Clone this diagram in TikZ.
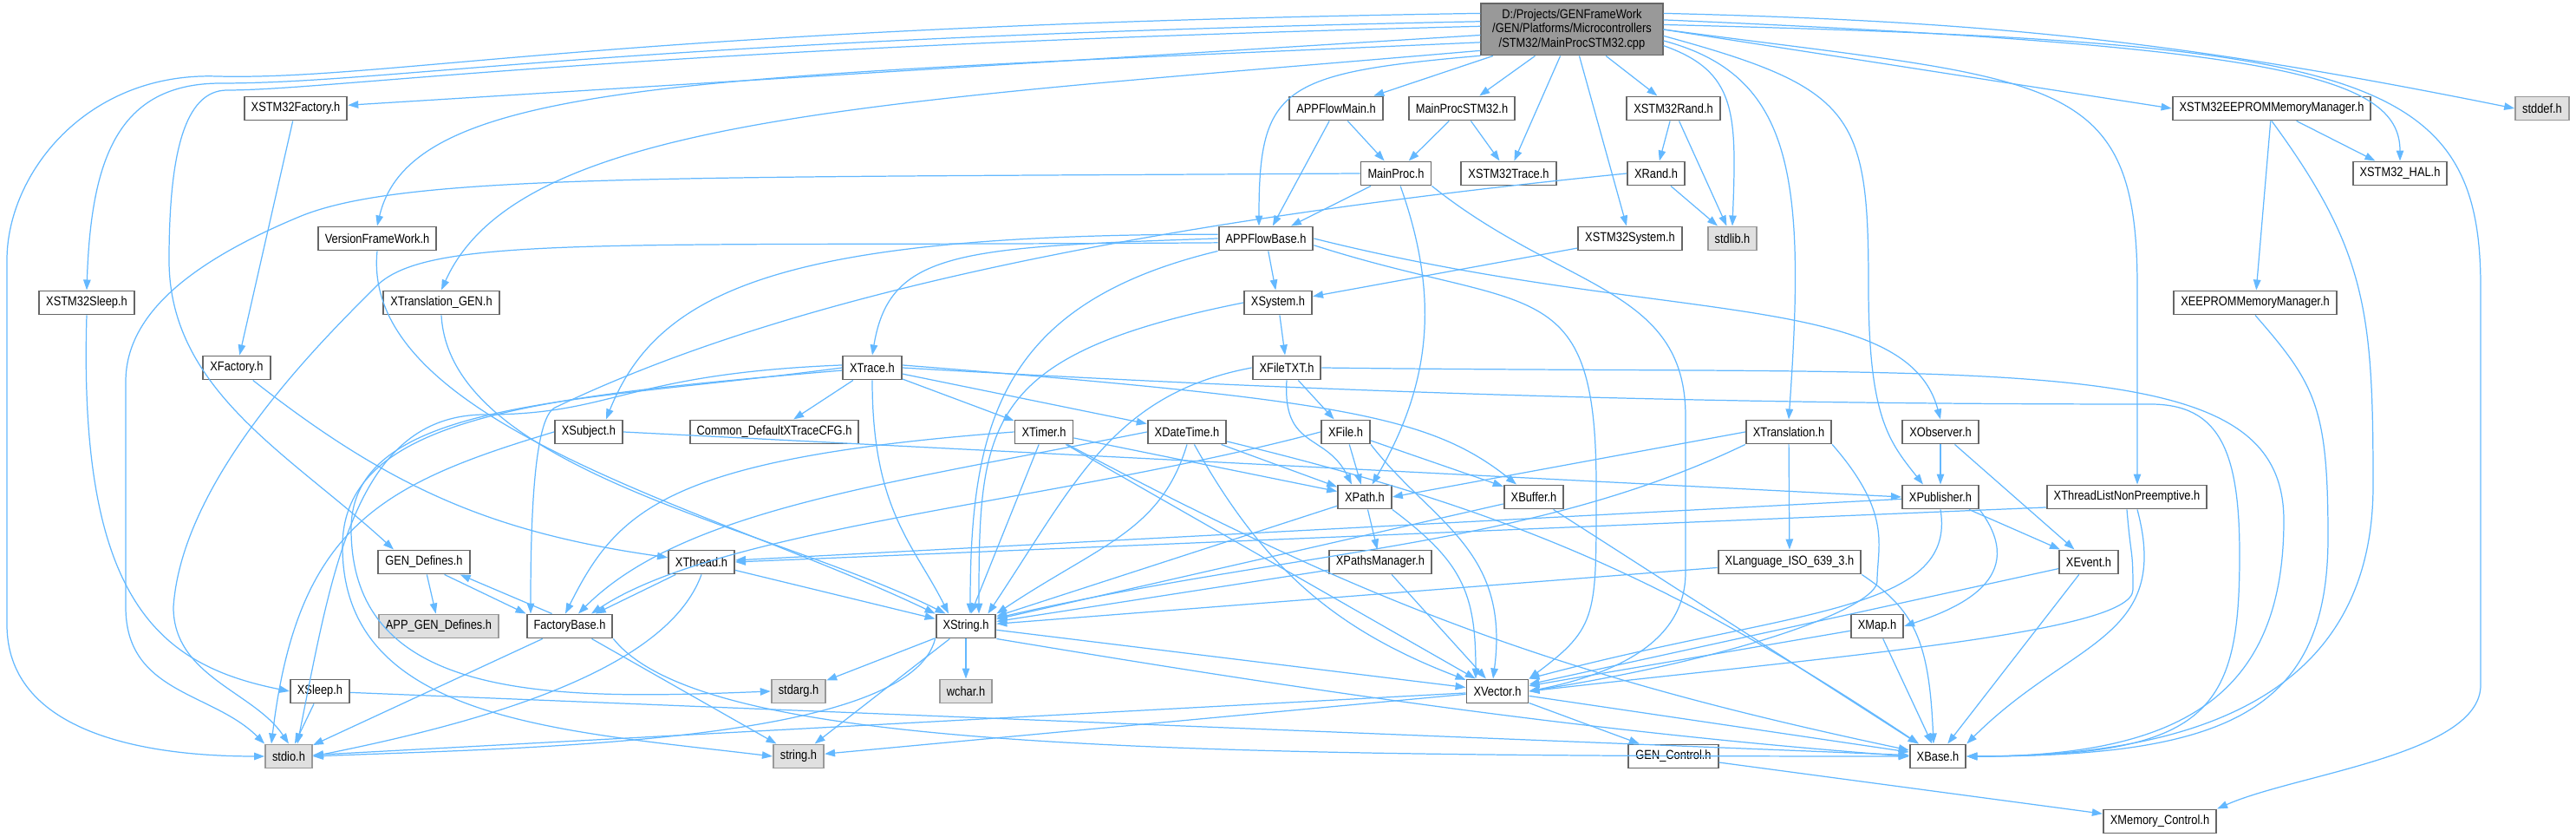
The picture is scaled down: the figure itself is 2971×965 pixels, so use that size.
\documentclass[tikz,border=0pt]{standalone}
\usepackage{fontspec}
\setmainfont{Liberation Sans}[FakeStretch=0.86]
\usepackage{xcolor}
\usepackage{tikz}
\usetikzlibrary{arrows.meta, calc}

\definecolor{edgeblue}{HTML}{63B8FF}
\definecolor{boxline}{HTML}{666666}
\definecolor{sysfill}{HTML}{E0E0E0}
\definecolor{sysline}{HTML}{999999}
\definecolor{rootfill}{HTML}{999999}

\begin{document}
\begin{tikzpicture}[
    x=0.01cm, y=0.01cm,
    file/.style={rectangle, draw=boxline, fill=white, line width=0.55pt, minimum height=0.27cm, inner xsep=0.08cm, inner ysep=0pt, font=\fontsize{4.25}{4.6}\selectfont},
    sys/.style={file, draw=sysline, fill=sysfill},
    rootfile/.style={file, fill=rootfill, align=center, minimum width=2.09cm, minimum height=0.59cm},
    line/.style={draw=edgeblue, line width=0.35pt, -{Triangle[length=0.12cm, width=0.085cm]}}
]
\useasboundingbox (0,0) rectangle (2971,-965);

% Nodes
\node [rootfile] (root) at (1813,-34) {D:/Projects/GENFrameWork\\/GEN/Platforms/Microcontrollers\\/STM32/MainProcSTM32.cpp};

\node [file] (stm32factory) at (341,-125) {XSTM32Factory.h};
\node [file] (appflowmain) at (1541,-125) {APPFlowMain.h};
\node [file] (mainprocstm32) at (1686,-125) {MainProcSTM32.h};
\node [file] (stm32rand) at (1930,-125) {XSTM32Rand.h};
\node [file] (stm32eeprom) at (2620,-125) {XSTM32EEPROMMemoryManager.h};
\node [sys] (stddef) at (2932,-125) {stddef.h};

\node [file] (mainproc) at (1610,-200) {MainProc.h};
\node [file] (stm32trace) at (1740,-200) {XSTM32Trace.h};
\node [file] (xrand) at (1910,-200) {XRand.h};
\node [file] (stm32hal) at (2768,-200) {XSTM32\_HAL.h};

\node [file] (versionfw) at (435,-275) {VersionFrameWork.h};
\node [file] (appflowbase) at (1460,-275) {APPFlowBase.h};
\node [file] (stm32system) at (1880,-275) {XSTM32System.h};
\node [sys] (stdlib) at (1998,-275) {stdlib.h};

\node [file] (stm32sleep) at (100,-349) {XSTM32Sleep.h};
\node [file] (translationgen) at (509,-349) {XTranslation\_GEN.h};
\node [file] (xsystem) at (1474,-349) {XSystem.h};
\node [file] (eeprommanager) at (2601,-349) {XEEPROMMemoryManager.h};

\node [file] (xfactory) at (273,-424) {XFactory.h};
\node [file] (xtrace) at (1006,-424) {XTrace.h};
\node [file] (xfiletxt) at (1484,-424) {XFileTXT.h};

\node [file] (xsubject) at (679,-498) {XSubject.h};
\node [file] (tracecfg) at (893,-498) {Common\_DefaultXTraceCFG.h};
\node [file] (xtimer) at (1204,-498) {XTimer.h};
\node [file] (xdatetime) at (1369,-498) {XDateTime.h};
\node [file] (xfile) at (1552,-498) {XFile.h};
\node [file] (xtranslation) at (2063,-498) {XTranslation.h};
\node [file] (xobserver) at (2238,-498) {XObserver.h};

\node [file] (xpath) at (1574,-573) {XPath.h};
\node [file] (xbuffer) at (1769,-573) {XBuffer.h};
\node [file] (xpublisher) at (2238,-573) {XPublisher.h};
\node [file] (xthreadlist) at (2453,-573) {XThreadListNonPreemptive.h};

\node [file] (gendefines) at (489,-648) {GEN\_Defines.h};
\node [file] (xthread) at (809,-648) {XThread.h};
\node [file] (xpathsmanager) at (1592,-648) {XPathsManager.h};
\node [file] (xlanguage) at (2064,-648) {XLanguage\_ISO\_639\_3.h};
\node [file] (xevent) at (2409,-648) {XEvent.h};

\node [sys] (appgendefines) at (506,-722) {APP\_GEN\_Defines.h};
\node [file] (factorybase) at (657,-722) {FactoryBase.h};
\node [file] (xstring) at (1114,-722) {XString.h};
\node [file] (xmap) at (2165,-722) {XMap.h};

\node [file] (xsleep) at (369,-797) {XSleep.h};
\node [sys] (stdarg) at (921,-797) {stdarg.h};
\node [sys] (wchar) at (1114,-797) {wchar.h};
\node [file] (xvector) at (1727,-797) {XVector.h};

\node [sys] (stdio) at (333,-872) {stdio.h};
\node [sys] (string) at (921,-872) {string.h};
\node [file] (gencontrol) at (1930,-872) {GEN\_Control.h};
\node [file] (xbase) at (2235,-872) {XBase.h};

\node [file] (memcontrol) at (2491,-947) {XMemory\_Control.h};

% Edges
% from the .cpp file
\path [line] (root) -- (stm32factory);
\path [line] (root.188) .. controls +(-900,-40) and +(40,170) .. (versionfw.north);
\path [line] (root.175) .. controls +(-1000,-20) and +(200,0) .. (255,-96) .. controls +(-120,0) and +(5,150) .. (stm32sleep.north);
\path [line] (root.170) .. controls +(-1000,-15) and +(200,-5) .. (250,-88) .. controls +(-150,5) and +(0,100) .. (8,-300) -- (8,-720) .. controls +(0,-120) and +(-150,0) .. (stdio.west);
\path [line] (root.178) .. controls +(-1000,-25) and +(120,0) .. (262,-104) .. controls +(-50,0) and +(0,120) .. (195,-300) .. controls +(0,-150) and +(-120,110) .. ([shift={(-35,0)}]gendefines.north);
\path [line] (root.193) .. controls +(-700,-60) and +(90,200) .. (translationgen.north);
\path [line] (root) -- (appflowmain);
\path [line] (root) -- (mainprocstm32);
\path [line] (root) -- (stm32trace);
\path [line] (root) -- (stm32rand);
\path [line] (root) -- (stm32system);
\path [line] (root.196) .. controls +(-230,-20) and +(0,160) .. ([shift={(-8,0)}]appflowbase.north);
\path [line] (root.350) .. controls +(85,-30) and +(5,130) .. (stdlib.north);
\path [line] (root.353) .. controls +(150,-40) and +(20,280) .. (xtranslation.north);
\path [line] (root.356) .. controls +(220,-60) and +(0,200) .. (2155,-330) .. controls +(0,-150) and +(-40,50) .. ([shift={(-20,0)}]xpublisher.north);
\path [line] (root.east) .. controls +(450,-60) and +(0,250) .. (2465,-330) -- ([shift={(12,0)}]xthreadlist.north);
\path [line] (root.east) -- (stm32eeprom.west);
\path [line] (root.6) .. controls +(700,-30) and +(0,100) .. (stm32hal.north);
\path [line] (root.10) to[bend left=5] (stddef.west);
\path [line] (root.3) .. controls +(800,-20) and +(0,250) .. (2861,-330) -- (2861,-790) .. controls +(0,-80) and +(90,40) .. (memcontrol.north east);

% left column
\path [line] (stm32factory) -- (xfactory);
\path [line] (xfactory) to[bend right=15] (xthread);
\path [line] (stm32sleep.south) .. controls +(-10,-330) and +(-150,30) .. (xsleep.west);
\path [line] (versionfw.south) .. controls +(-20,-200) and +(-250,120) .. (xstring.north west);
\path [line] (translationgen.south) .. controls +(10,-180) and +(-200,100) .. ([shift={(12,0)}]xstring.north west);
\path [line] (gendefines) -- (appgendefines);
\path [line] ([shift={(-30,0)}]gendefines.south east) -- (factorybase.north west);
\path [line] ([shift={(30,0)}]factorybase.north west) -- ([shift={(-12,0)}]gendefines.south east);
\path [line] (xthread) -- (factorybase);
\path [line] (xthread.south) .. controls +(-40,-110) and +(200,40) .. (stdio.east);
\path [line] (xthread) -- (xstring);
\path [line] (factorybase) -- (stdio);
\path [line] (factorybase) -- (string);
\path [line] (factorybase.south east) .. controls +(100,-125) and +(-900,0) .. (xbase.west);
\path [line] (xsleep) -- (stdio);
\path [line] (xsleep) -- (xbase);

% application
\path [line] (appflowmain) -- (mainproc);
\path [line] (appflowmain) -- (appflowbase);
\path [line] (mainprocstm32) -- (mainproc);
\path [line] (mainprocstm32) -- (stm32trace);
\path [line] (stm32rand) -- (xrand);
\path [line] (stm32rand) -- (stdlib);
\path [line] (xrand) -- (stdlib);
\path [line] (mainproc) -- (appflowbase);
\path [line] (mainproc.west) .. controls +(-800,-5) and +(120,50) .. (345,-250) .. controls +(-120,-50) and +(0,80) .. (145,-440) -- (145,-700) .. controls +(0,-100) and +(-60,60) .. (stdio.north west);
\path [line] (mainproc) to[bend left=25] (xpath);
\path [line] (mainproc.south east) .. controls +(150,-120) and +(0,150) .. (1944,-480) -- (1944,-660) .. controls +(0,-80) and +(100,20) .. (xvector.east);
\path [line] (xrand.west) .. controls +(-600,-60) and +(250,120) .. (640,-470) .. controls +(-25,-12) and +(0,100) .. ([shift={(-45,0)}]factorybase.north);

\path [line] (appflowbase) -- (xsystem);
\path [line] (stm32system) -- (xsystem);
\path [line] (appflowbase.west) .. controls +(-300,-10) and +(20,120) .. (xtrace.north);
\path [line] (appflowbase.175) .. controls +(-500,0) and +(60,150) .. ([shift={(20,0)}]xsubject.north);
\path [line] (appflowbase.185) .. controls +(-700,-5) and +(60,60) .. (434,-330) .. controls +(-60,-60) and +(10,150) .. (200,-700) .. controls +(0,-80) and +(-40,60) .. (stdio.north);
\path [line] (appflowbase.south west) .. controls +(-250,-60) and +(0,220) .. ([shift={(5,0)}]xstring.north);
\path [line] (appflowbase.east) .. controls +(400,-100) and +(-40,150) .. (xobserver.north);
\path [line] (appflowbase.-8) .. controls +(250,-80) and +(0,250) .. (1841,-560) .. controls +(0,-150) and +(80,60) .. (xvector.north east);

% system, files and paths
\path [line] (xsystem) -- (xfiletxt);
\path [line] (xsystem.west) .. controls +(-300,-60) and +(0,220) .. ([shift={(15,0)}]xstring.north);
\path [line] (xfiletxt) -- (xfile);
\path [line] (xfiletxt.south) .. controls +(-5,-80) and +(-30,60) .. ([shift={(-15,0)}]xpath.north);
\path [line] (xfiletxt.west) .. controls +(-160,-30) and +(100,150) .. ([shift={(-10,0)}]xstring.north east);
\path [line] (xfiletxt.east) .. controls +(800,-10) and +(0,200) .. (2634,-600) .. controls +(0,-200) and +(250,0) .. (xbase.east);
\path [line] (xfile) -- (xpath);
\path [line] (xfile) -- (xbuffer);
\path [line] (xfile.south east) .. controls +(70,-90) and +(20,150) .. ([shift={(-5,0)}]xvector.north);
\path [line] (xfile.west) .. controls +(-300,-80) and +(150,100) .. ([shift={(25,0)}]factorybase.north);
\path [line] (xpath) -- (xpathsmanager);
\path [line] (xpath) -- (xstring);
\path [line] (xpath.south east) .. controls +(80,-60) and +(0,100) .. ([shift={(-25,0)}]xvector.north);
\path [line] (xpathsmanager) -- (xstring);
\path [line] (xpathsmanager) -- (xvector);
\path [line] (xbuffer) -- (xstring);
\path [line] (xbuffer) -- (xbase);

% trace
\path [line] (xtrace) -- (tracecfg);
\path [line] (xtrace) -- (xtimer);
\path [line] (xtrace) -- (xdatetime);
\path [line] (xtrace.5) .. controls +(500,-40) and +(-100,80) .. ([shift={(-20,0)}]xbuffer.north);
\path [line] (xtrace.south) .. controls +(0,-150) and +(-40,80) .. ([shift={(-20,0)}]xstring.north);
\path [line] (xtrace.175) .. controls +(-250,-10) and +(150,0) .. (560,-478) .. controls +(-150,0) and +(40,200) .. ([shift={(10,0)}]stdio.north);
\path [line] (xtrace.west) .. controls +(-300,-40) and +(0,150) .. (405,-610) .. controls +(0,-200) and +(-250,-10) .. (stdarg.west);
\path [line] (xtrace.185) .. controls +(-350,-30) and +(0,150) .. (395,-630) .. controls +(0,-200) and +(-250,30) .. (string.west);
\path [line] (xtrace.east) .. controls +(600,-35) and +(-400,0) .. (2480,-466) .. controls +(80,0) and +(0,120) .. (2583,-640) .. controls +(0,-180) and +(280,0) .. (xbase.east);

% timer and date
\path [line] (xtimer) -- (xpath);
\path [line] (xtimer) -- (xstring);
\path [line] (xtimer) -- (xvector);
\path [line] (xtimer.west) .. controls +(-400,-30) and +(60,120) .. ([shift={(-5,0)}]factorybase.north);
\path [line] (xtimer) to[bend right=8] (xbase);
\path [line] (xdatetime) -- (xpath);
\path [line] (xdatetime.south) .. controls +(-30,-100) and +(120,80) .. (xstring.north east);
\path [line] (xdatetime) to[bend right=20] (xvector);
\path [line] (xdatetime.west) .. controls +(-300,-60) and +(120,120) .. ([shift={(10,0)}]factorybase.north);
\path [line] (xdatetime) to[bend left=10] (xbase);

% subject, translation, publisher
\path [line] (xsubject.east) -- (xpublisher.west);
\path [line] (xsubject.west) .. controls +(-200,-60) and +(30,250) .. ([shift={(-20,0)}]stdio.north);
\path [line] (xtranslation) -- (xlanguage);
\path [line] (xtranslation.west) -- (xpath.east);
\path [line] (xtranslation.south west) .. controls +(-250,-120) and +(350,80) .. (xstring.15);
\path [line] (xtranslation.south east) .. controls +(70,-80) and +(0,40) .. (2165,-670) .. controls +(0,-30) and +(250,40) .. (xvector.east);
\path [line] (xlanguage) -- (xstring);
\path [line] (xlanguage.south east) .. controls +(60,-40) and +(-5,120) .. ([shift={(-5,0)}]xbase.north);
\path [line] (xobserver) -- (xpublisher);
\path [line] (xobserver) -- (xevent);
\path [line] (xpublisher) -- (xevent);
\path [line] (xpublisher) -- (xthread);
\path [line] (xpublisher.south east) .. controls +(60,-80) and +(60,20) .. (xmap.east);
\path [line] (xpublisher.south) .. controls +(20,-120) and +(300,80) .. (xvector.north east);
\path [line] ([shift={(0,-12)}]xthreadlist.west) -- (xthread.east);
\path [line] (xthreadlist.south) .. controls +(5,-60) and +(0,50) .. (2460,-680) .. controls +(0,-50) and +(350,40) .. (xvector.east);
\path [line] ([shift={(12,0)}]xthreadlist.south) .. controls +(40,-150) and +(120,120) .. (xbase.north east);
\path [line] (xevent) -- (xvector);
\path [line] (xevent) -- (xbase);
\path [line] (xmap) -- (xvector);
\path [line] (xmap) -- (xbase);

% string and vector
\path [line] (xstring) -- (wchar);
\path [line] (xstring) -- (stdarg);
\path [line] (xstring) -- (string);
\path [line] (xstring.south west) .. controls +(-30,-120) and +(250,10) .. (stdio.east);
\path [line] (xstring) -- (xvector);
\path [line] (xstring.south east) .. controls +(300,-50) and +(-400,30) .. (xbase.west);
\path [line] (xvector) -- (stdio);
\path [line] (xvector) -- (string);
\path [line] (xvector) -- (gencontrol);
\path [line] (xvector) -- (xbase);
\path [line] (gencontrol) -- (memcontrol);

% eeprom
\path [line] (stm32eeprom) -- (eeprommanager);
\path [line] (stm32eeprom) -- (stm32hal);
\path [line] (stm32eeprom.south) .. controls +(110,-150) and +(0,200) .. (2737,-560) .. controls +(0,-250) and +(250,0) .. (xbase.east);
\path [line] (eeprommanager.south) .. controls +(70,-80) and +(0,150) .. (2685,-620) .. controls +(0,-200) and +(300,0) .. (xbase.east);
\end{tikzpicture}
\end{document}
